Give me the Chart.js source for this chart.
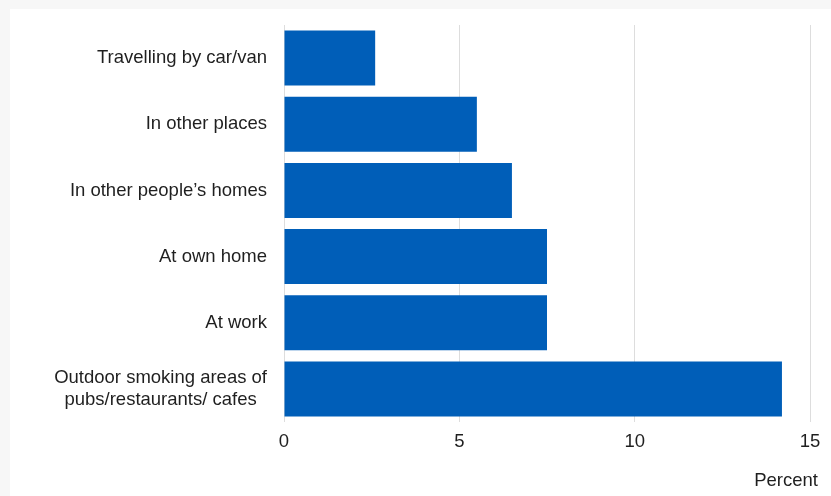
<!DOCTYPE html>
<html>
<head>
<meta charset="utf-8">
<script src="https://cdn.jsdelivr.net/npm/chart.js@4/dist/chart.umd.min.js"></script>
<style>
  html, body { margin: 0; padding: 0; background: #f7f7f7; }
  #panel { position: absolute; left: 10px; top: 9px; width: 821px; height: 487px; background: #fff; }
</style>
</head>
<body>
<div id="panel"><canvas id="chart" width="821" height="487"></canvas></div>
<script>
// places where people were exposed to smoke
// (trailing spaces on the second line mimic the centred wrap of the original)
const categories = [
    'Travelling by car/van',
    'In other places',
    'In other people\u2019s homes',
    'At own home',
    'At work',
    ['Outdoor smoking areas of', 'pubs/restaurants/ cafes  ']
];
const percentValues = [2.6, 5.5, 6.5, 7.5, 7.5, 14.2];
const xTicks = [0, 5, 10, 15];

const fontFamily = 'Liberation Sans, Arial, sans-serif';
const textColor = '#1f1f1f';

// nudge the "Percent" title a little past the plot edge, like the original
const titleNudge = {
    id: 'titleNudge',
    afterLayout(chart) {
        chart.scales.x.right += 8;
    }
};

const ctx = document.getElementById('chart').getContext('2d');

const chart = new Chart(ctx, {
    type: 'bar',
    data: {
        labels: categories,
        datasets: [{
            label: 'Percent',
            data: percentValues,
            backgroundColor: '#005eb8',
            borderWidth: 0,
            categoryPercentage: 1,
            barPercentage: 0.83
        }]
    },
    options: {
        indexAxis: 'y',
        responsive: false,
        animation: false,
        layout: { padding: { top: 16, right: 21, bottom: 0, left: 0 } },
        plugins: {
            legend: { display: false },
            tooltip: { enabled: false }
        },
        scales: {
            x: {
                min: 0,
                max: 15,
                afterBuildTicks: (scale) => { scale.ticks = xTicks.map(v => ({ value: v })); },
                afterFit: (scale) => {
                    scale.height = 74;
                    scale.paddingLeft = 0;
                    scale.paddingRight = 0;
                },
                grid: { color: '#dddddd', drawTicks: false },
                border: { display: false },
                ticks: {
                    color: textColor,
                    padding: 9,
                    font: { family: fontFamily, size: 18.5 }
                },
                title: {
                    display: true,
                    text: 'Percent',
                    align: 'end',
                    color: textColor,
                    padding: { top: 16, bottom: 4 },
                    font: { family: fontFamily, size: 18.5 }
                }
            },
            y: {
                grid: { display: false },
                border: { display: false },
                afterFit: (scale) => {
                    scale.width = 274;
                    scale.paddingTop = 0;
                    scale.paddingBottom = 0;
                },
                ticks: {
                    color: textColor,
                    padding: 9,
                    autoSkip: false,
                    font: { family: fontFamily, size: 18.5, lineHeight: 1.2 }
                }
            }
        }
    },
    plugins: [titleNudge]
});
</script>
</body>
</html>
